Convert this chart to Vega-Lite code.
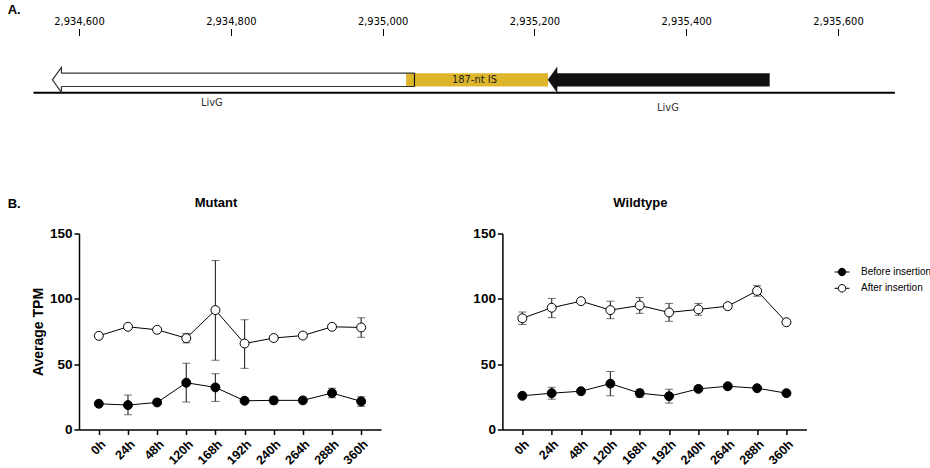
{
  "$schema": "https://vega.github.io/schema/vega-lite/v6.json",
  "padding": {"left": 7, "top": 3.5, "right": 0, "bottom": 0},
  "background": "white",
  "config": {
    "view": {"stroke": null},
    "font": "Liberation Sans",
    "axis": {
      "labelFont": "Liberation Sans", "labelFontWeight": "bold", "labelColor": "black",
      "titleFont": "Liberation Sans", "titleFontWeight": "bold", "titleColor": "black",
      "domainColor": "black", "domainWidth": 1.5, "tickColor": "black", "tickWidth": 1.5,
      "tickSize": 5, "grid": false
    },
    "axisTop": {"labelFlush": false, "labelOverlap": false}
  },
  "datasets": {
    "track": [{"start": 2934540, "end": 2935675}],
    "insertion": [{"label": "187-nt IS", "start": 2935031, "end": 2935218, "label_at": 2935121}],
    "genes": [
      {"gene": "LivG", "segment": "upstream", "tip": 2934565, "body_start": 2934576, "end": 2935042, "label_at": 2934775},
      {"gene": "LivG", "segment": "downstream", "tip": 2935218, "body_start": 2935228, "end": 2935510, "label_at": 2935376}
    ],
    "tpm": [
      {"panel": "Mutant", "series": "After insertion", "time": "0h", "tpm": 71.7},
      {"panel": "Mutant", "series": "After insertion", "time": "24h", "tpm": 78.6},
      {"panel": "Mutant", "series": "After insertion", "time": "48h", "tpm": 76.3},
      {"panel": "Mutant", "series": "After insertion", "time": "120h", "tpm": 69.9, "lo": 66.3, "hi": 73.5},
      {"panel": "Mutant", "series": "After insertion", "time": "168h", "tpm": 91.4, "lo": 53.0, "hi": 129.3},
      {"panel": "Mutant", "series": "After insertion", "time": "192h", "tpm": 65.8, "lo": 46.8, "hi": 84.0},
      {"panel": "Mutant", "series": "After insertion", "time": "240h", "tpm": 70.0, "lo": 68.5, "hi": 71.5},
      {"panel": "Mutant", "series": "After insertion", "time": "264h", "tpm": 71.9, "lo": 69.9, "hi": 73.9},
      {"panel": "Mutant", "series": "After insertion", "time": "288h", "tpm": 78.6},
      {"panel": "Mutant", "series": "After insertion", "time": "360h", "tpm": 78.1, "lo": 70.6, "hi": 85.5},
      {"panel": "Mutant", "series": "Before insertion", "time": "0h", "tpm": 19.7},
      {"panel": "Mutant", "series": "Before insertion", "time": "24h", "tpm": 18.7, "lo": 11.3, "hi": 26.4},
      {"panel": "Mutant", "series": "Before insertion", "time": "48h", "tpm": 20.7},
      {"panel": "Mutant", "series": "Before insertion", "time": "120h", "tpm": 35.8, "lo": 21.0, "hi": 50.7},
      {"panel": "Mutant", "series": "Before insertion", "time": "168h", "tpm": 32.2, "lo": 21.5, "hi": 42.7},
      {"panel": "Mutant", "series": "Before insertion", "time": "192h", "tpm": 22.0},
      {"panel": "Mutant", "series": "Before insertion", "time": "240h", "tpm": 22.3, "lo": 19.5, "hi": 25.1},
      {"panel": "Mutant", "series": "Before insertion", "time": "264h", "tpm": 22.3},
      {"panel": "Mutant", "series": "Before insertion", "time": "288h", "tpm": 27.9, "lo": 24.3, "hi": 31.5},
      {"panel": "Mutant", "series": "Before insertion", "time": "360h", "tpm": 21.5, "lo": 17.7, "hi": 25.1},
      {"panel": "Wildtype", "series": "After insertion", "time": "0h", "tpm": 85.1, "lo": 80.3, "hi": 89.9},
      {"panel": "Wildtype", "series": "After insertion", "time": "24h", "tpm": 93.2, "lo": 85.6, "hi": 100.3},
      {"panel": "Wildtype", "series": "After insertion", "time": "48h", "tpm": 98.2},
      {"panel": "Wildtype", "series": "After insertion", "time": "120h", "tpm": 91.4, "lo": 84.8, "hi": 98.2},
      {"panel": "Wildtype", "series": "After insertion", "time": "168h", "tpm": 94.9, "lo": 88.9, "hi": 101.0},
      {"panel": "Wildtype", "series": "After insertion", "time": "192h", "tpm": 89.6, "lo": 82.8, "hi": 96.5},
      {"panel": "Wildtype", "series": "After insertion", "time": "240h", "tpm": 91.9, "lo": 87.4, "hi": 96.5},
      {"panel": "Wildtype", "series": "After insertion", "time": "264h", "tpm": 94.4},
      {"panel": "Wildtype", "series": "After insertion", "time": "288h", "tpm": 106.1, "lo": 102.0, "hi": 110.1},
      {"panel": "Wildtype", "series": "After insertion", "time": "360h", "tpm": 82.1},
      {"panel": "Wildtype", "series": "Before insertion", "time": "0h", "tpm": 25.8},
      {"panel": "Wildtype", "series": "Before insertion", "time": "24h", "tpm": 27.8, "lo": 23.2, "hi": 32.3},
      {"panel": "Wildtype", "series": "Before insertion", "time": "48h", "tpm": 29.3},
      {"panel": "Wildtype", "series": "Before insertion", "time": "120h", "tpm": 35.1, "lo": 25.8, "hi": 44.4},
      {"panel": "Wildtype", "series": "Before insertion", "time": "168h", "tpm": 27.8, "lo": 24.7, "hi": 30.8},
      {"panel": "Wildtype", "series": "Before insertion", "time": "192h", "tpm": 25.5, "lo": 20.2, "hi": 30.8},
      {"panel": "Wildtype", "series": "Before insertion", "time": "240h", "tpm": 31.1},
      {"panel": "Wildtype", "series": "Before insertion", "time": "264h", "tpm": 33.1},
      {"panel": "Wildtype", "series": "Before insertion", "time": "288h", "tpm": 31.6},
      {"panel": "Wildtype", "series": "Before insertion", "time": "360h", "tpm": 27.8}
    ]
  },
  "vconcat": [
    {
      "width": 759,
      "height": 65,
      "layer": [
        {
          "data": {"name": "track"},
          "mark": {"type": "rule", "color": "black", "strokeWidth": 2},
          "encoding": {
            "x": {"field": "start", "type": "quantitative", "title": null, "scale": {"domain": [2934600, 2935600], "nice": false, "zero": false},
              "axis": {"orient": "top", "values": [2934600, 2934800, 2935000, 2935200, 2935400, 2935600], "format": ",d", "title": null, "domain": false, "grid": false, "tickSize": 7, "tickWidth": 1, "tickColor": "black", "labelFont": "DejaVu Sans Condensed, Roboto, sans-serif", "labelFontSize": 11, "labelFontWeight": "normal", "labelPadding": 2, "labelColor": "black", "labelFlush": false, "labelOverlap": false}},
            "x2": {"field": "end"},
            "y": {"datum": 1.185, "type": "quantitative", "scale": {"domain": [0, 10], "nice": false, "zero": false}, "axis": null}
          }
        },
        {
          "data": {"name": "insertion"},
          "mark": {"type": "rect", "color": "#DDB62B"},
          "encoding": {
            "x": {"field": "start", "type": "quantitative", "title": null, "scale": {"domain": [2934600, 2935600], "nice": false, "zero": false},
              "axis": {"orient": "top", "values": [2934600, 2934800, 2935000, 2935200, 2935400, 2935600], "format": ",d", "title": null, "domain": false, "grid": false, "tickSize": 7, "tickWidth": 1, "tickColor": "black", "labelFont": "DejaVu Sans Condensed, Roboto, sans-serif", "labelFontSize": 11, "labelFontWeight": "normal", "labelPadding": 2, "labelColor": "black", "labelFlush": false, "labelOverlap": false}},
            "x2": {"field": "end"},
            "y": {"datum": 4.2, "type": "quantitative", "scale": {"domain": [0, 10], "nice": false, "zero": false}, "axis": null},
            "y2": {"datum": 2.154}
          }
        },
        {
          "data": {"name": "insertion"},
          "mark": {"type": "text", "font": "DejaVu Sans Condensed, Roboto, sans-serif", "fontSize": 11, "color": "#222", "baseline": "middle", "align": "center"},
          "encoding": {
            "x": {"field": "label_at", "type": "quantitative", "title": null, "scale": {"domain": [2934600, 2935600], "nice": false, "zero": false},
              "axis": {"orient": "top", "values": [2934600, 2934800, 2935000, 2935200, 2935400, 2935600], "format": ",d", "title": null, "domain": false, "grid": false, "tickSize": 7, "tickWidth": 1, "tickColor": "black", "labelFont": "DejaVu Sans Condensed, Roboto, sans-serif", "labelFontSize": 11, "labelFontWeight": "normal", "labelPadding": 2, "labelColor": "black", "labelFlush": false, "labelOverlap": false}},
            "y": {"datum": 3.1, "type": "quantitative", "scale": {"domain": [0, 10], "nice": false, "zero": false}, "axis": null},
            "text": {"field": "label"}
          }
        },
        {
          "data": {"name": "genes"},
          "transform": [{"filter": "datum.segment === 'downstream'"}],
          "mark": {"type": "rect", "color": "#111111"},
          "encoding": {
            "x": {"field": "body_start", "type": "quantitative", "title": null, "scale": {"domain": [2934600, 2935600], "nice": false, "zero": false},
              "axis": {"orient": "top", "values": [2934600, 2934800, 2935000, 2935200, 2935400, 2935600], "format": ",d", "title": null, "domain": false, "grid": false, "tickSize": 7, "tickWidth": 1, "tickColor": "black", "labelFont": "DejaVu Sans Condensed, Roboto, sans-serif", "labelFontSize": 11, "labelFontWeight": "normal", "labelPadding": 2, "labelColor": "black", "labelFlush": false, "labelOverlap": false}},
            "x2": {"field": "end"},
            "y": {"datum": 4.2, "type": "quantitative", "scale": {"domain": [0, 10], "nice": false, "zero": false}, "axis": null},
            "y2": {"datum": 2.154}
          }
        },
        {
          "data": {"name": "genes"},
          "transform": [{"filter": "datum.segment === 'downstream'"}],
          "mark": {"type": "point", "shape": "M0,0L0.72,-1L0.72,1Z", "size": 625, "filled": true, "fill": "#111111", "stroke": "#111111", "strokeWidth": 0.5, "opacity": 1},
          "encoding": {
            "x": {"field": "tip", "type": "quantitative", "title": null, "scale": {"domain": [2934600, 2935600], "nice": false, "zero": false},
              "axis": {"orient": "top", "values": [2934600, 2934800, 2935000, 2935200, 2935400, 2935600], "format": ",d", "title": null, "domain": false, "grid": false, "tickSize": 7, "tickWidth": 1, "tickColor": "black", "labelFont": "DejaVu Sans Condensed, Roboto, sans-serif", "labelFontSize": 11, "labelFontWeight": "normal", "labelPadding": 2, "labelColor": "black", "labelFlush": false, "labelOverlap": false}},
            "y": {"datum": 3.177, "type": "quantitative", "scale": {"domain": [0, 10], "nice": false, "zero": false}, "axis": null}
          }
        },
        {
          "data": {"name": "genes"},
          "transform": [{"filter": "datum.segment === 'upstream'"}],
          "mark": {"type": "rule", "color": "#333333", "strokeWidth": 1.2},
          "encoding": {
            "x": {"field": "body_start", "type": "quantitative", "title": null, "scale": {"domain": [2934600, 2935600], "nice": false, "zero": false},
              "axis": {"orient": "top", "values": [2934600, 2934800, 2935000, 2935200, 2935400, 2935600], "format": ",d", "title": null, "domain": false, "grid": false, "tickSize": 7, "tickWidth": 1, "tickColor": "black", "labelFont": "DejaVu Sans Condensed, Roboto, sans-serif", "labelFontSize": 11, "labelFontWeight": "normal", "labelPadding": 2, "labelColor": "black", "labelFlush": false, "labelOverlap": false}},
            "x2": {"field": "end"},
            "y": {"datum": 4.2, "type": "quantitative", "scale": {"domain": [0, 10], "nice": false, "zero": false}, "axis": null}
          }
        },
        {
          "data": {"name": "genes"},
          "transform": [{"filter": "datum.segment === 'upstream'"}],
          "mark": {"type": "rule", "color": "#333333", "strokeWidth": 1.2},
          "encoding": {
            "x": {"field": "body_start", "type": "quantitative", "title": null, "scale": {"domain": [2934600, 2935600], "nice": false, "zero": false},
              "axis": {"orient": "top", "values": [2934600, 2934800, 2935000, 2935200, 2935400, 2935600], "format": ",d", "title": null, "domain": false, "grid": false, "tickSize": 7, "tickWidth": 1, "tickColor": "black", "labelFont": "DejaVu Sans Condensed, Roboto, sans-serif", "labelFontSize": 11, "labelFontWeight": "normal", "labelPadding": 2, "labelColor": "black", "labelFlush": false, "labelOverlap": false}},
            "x2": {"field": "end"},
            "y": {"datum": 2.154, "type": "quantitative", "scale": {"domain": [0, 10], "nice": false, "zero": false}, "axis": null}
          }
        },
        {
          "data": {"name": "genes"},
          "transform": [{"filter": "datum.segment === 'upstream'"}],
          "mark": {"type": "rule", "color": "#111111", "strokeWidth": 1.2},
          "encoding": {
            "x": {"field": "end", "type": "quantitative", "title": null, "scale": {"domain": [2934600, 2935600], "nice": false, "zero": false},
              "axis": {"orient": "top", "values": [2934600, 2934800, 2935000, 2935200, 2935400, 2935600], "format": ",d", "title": null, "domain": false, "grid": false, "tickSize": 7, "tickWidth": 1, "tickColor": "black", "labelFont": "DejaVu Sans Condensed, Roboto, sans-serif", "labelFontSize": 11, "labelFontWeight": "normal", "labelPadding": 2, "labelColor": "black", "labelFlush": false, "labelOverlap": false}},
            "y": {"datum": 4.2, "type": "quantitative", "scale": {"domain": [0, 10], "nice": false, "zero": false}, "axis": null},
            "y2": {"datum": 2.154}
          }
        },
        {
          "data": {"name": "genes"},
          "transform": [{"filter": "datum.segment === 'upstream'"}],
          "mark": {"type": "point", "shape": "M0.72,-0.532L0.72,-1L0,0L0.72,1L0.72,0.532", "size": 625, "filled": true, "fill": "white", "stroke": "#333333", "strokeWidth": 1.2, "opacity": 1},
          "encoding": {
            "x": {"field": "tip", "type": "quantitative", "title": null, "scale": {"domain": [2934600, 2935600], "nice": false, "zero": false},
              "axis": {"orient": "top", "values": [2934600, 2934800, 2935000, 2935200, 2935400, 2935600], "format": ",d", "title": null, "domain": false, "grid": false, "tickSize": 7, "tickWidth": 1, "tickColor": "black", "labelFont": "DejaVu Sans Condensed, Roboto, sans-serif", "labelFontSize": 11, "labelFontWeight": "normal", "labelPadding": 2, "labelColor": "black", "labelFlush": false, "labelOverlap": false}},
            "y": {"datum": 3.177, "type": "quantitative", "scale": {"domain": [0, 10], "nice": false, "zero": false}, "axis": null}
          }
        },
        {
          "data": {"name": "genes"},
          "transform": [{"filter": "datum.segment === 'upstream'"}],
          "mark": {"type": "text", "font": "DejaVu Sans Condensed, Roboto, sans-serif", "fontSize": 11, "color": "#333", "baseline": "middle", "align": "center"},
          "encoding": {
            "x": {"field": "label_at", "type": "quantitative", "title": null, "scale": {"domain": [2934600, 2935600], "nice": false, "zero": false},
              "axis": {"orient": "top", "values": [2934600, 2934800, 2935000, 2935200, 2935400, 2935600], "format": ",d", "title": null, "domain": false, "grid": false, "tickSize": 7, "tickWidth": 1, "tickColor": "black", "labelFont": "DejaVu Sans Condensed, Roboto, sans-serif", "labelFontSize": 11, "labelFontWeight": "normal", "labelPadding": 2, "labelColor": "black", "labelFlush": false, "labelOverlap": false}},
            "y": {"datum": -0.46, "type": "quantitative", "scale": {"domain": [0, 10], "nice": false, "zero": false}, "axis": null},
            "text": {"field": "gene"}
          }
        },
        {
          "data": {"name": "genes"},
          "transform": [{"filter": "datum.segment === 'downstream'"}],
          "mark": {"type": "text", "font": "DejaVu Sans Condensed, Roboto, sans-serif", "fontSize": 11, "color": "#333", "baseline": "middle", "align": "center"},
          "encoding": {
            "x": {"field": "label_at", "type": "quantitative", "title": null, "scale": {"domain": [2934600, 2935600], "nice": false, "zero": false},
              "axis": {"orient": "top", "values": [2934600, 2934800, 2935000, 2935200, 2935400, 2935600], "format": ",d", "title": null, "domain": false, "grid": false, "tickSize": 7, "tickWidth": 1, "tickColor": "black", "labelFont": "DejaVu Sans Condensed, Roboto, sans-serif", "labelFontSize": 11, "labelFontWeight": "normal", "labelPadding": 2, "labelColor": "black", "labelFlush": false, "labelOverlap": false}},
            "y": {"datum": -1.08, "type": "quantitative", "scale": {"domain": [0, 10], "nice": false, "zero": false}, "axis": null},
            "text": {"field": "gene"}
          }
        },
        {
          "data": {"values": [{"panel_label": "A."}]},
          "mark": {"type": "text", "font": "Liberation Sans", "fontWeight": "bold", "fontSize": 13, "color": "black", "baseline": "middle", "align": "left"},
          "encoding": {
            "x": {"datum": 2934506, "type": "quantitative", "title": null, "scale": {"domain": [2934600, 2935600], "nice": false, "zero": false},
              "axis": {"orient": "top", "values": [2934600, 2934800, 2935000, 2935200, 2935400, 2935600], "format": ",d", "title": null, "domain": false, "grid": false, "tickSize": 7, "tickWidth": 1, "tickColor": "black", "labelFont": "DejaVu Sans Condensed, Roboto, sans-serif", "labelFontSize": 11, "labelFontWeight": "normal", "labelPadding": 2, "labelColor": "black", "labelFlush": false, "labelOverlap": false}},
            "y": {"datum": 13.85, "type": "quantitative", "scale": {"domain": [0, 10], "nice": false, "zero": false}, "axis": null},
            "text": {"field": "panel_label"}
          }
        },
        {
          "data": {"values": [{"panel_label": "B."}]},
          "mark": {"type": "text", "font": "Liberation Sans", "fontWeight": "bold", "fontSize": 13, "color": "black", "baseline": "middle", "align": "left"},
          "encoding": {
            "x": {"datum": 2934506, "type": "quantitative", "title": null, "scale": {"domain": [2934600, 2935600], "nice": false, "zero": false},
              "axis": {"orient": "top", "values": [2934600, 2934800, 2935000, 2935200, 2935400, 2935600], "format": ",d", "title": null, "domain": false, "grid": false, "tickSize": 7, "tickWidth": 1, "tickColor": "black", "labelFont": "DejaVu Sans Condensed, Roboto, sans-serif", "labelFontSize": 11, "labelFontWeight": "normal", "labelPadding": 2, "labelColor": "black", "labelFlush": false, "labelOverlap": false}},
            "y": {"datum": -15.85, "type": "quantitative", "scale": {"domain": [0, 10], "nice": false, "zero": false}, "axis": null},
            "text": {"field": "panel_label"}
          }
        }
      ]
    },
    {
      "hconcat": [
        {
          "title": {"text": "Mutant", "font": "Liberation Sans", "fontSize": 13, "fontWeight": "bold", "color": "black", "dx": -14, "offset": 17},
          "width": 302,
          "height": 196,
          "data": {"name": "tpm"},
          "transform": [{"filter": "datum.panel === 'Mutant'"}],
          "encoding": {
            "x": {"field": "time", "type": "nominal", "sort": ["0h", "24h", "48h", "120h", "168h", "192h", "240h", "264h", "288h", "360h"], "scale": {"type": "point", "padding": 0.68}, "title": null,
              "axis": {"labelAngle": -45, "labelFontSize": 12.5, "labelPadding": 3, "title": null}}
          },
          "layer": [
            {
              "transform": [{"filter": "isValid(datum.lo)"}],
              "mark": {"type": "errorbar", "ticks": {"size": 8, "color": "#333333", "strokeWidth": 1.2}, "rule": {"color": "#333333", "strokeWidth": 1.2}},
              "encoding": {
                "y": {"field": "lo", "type": "quantitative", "scale": {"domain": [0, 150], "nice": false}, "title": "Average TPM",
                  "axis": {"values": [0, 50, 100, 150], "labelFontSize": 13.5, "titleFontSize": 14, "titlePadding": 4, "labelPadding": 2, "title": "Average TPM"}},
                "y2": {"field": "hi"}
              }
            },
            {
              "mark": {"type": "line", "color": "black", "strokeWidth": 1},
              "encoding": {
                "y": {"field": "tpm", "type": "quantitative", "scale": {"domain": [0, 150], "nice": false}, "title": "Average TPM",
                  "axis": {"values": [0, 50, 100, 150], "labelFontSize": 13.5, "titleFontSize": 14, "titlePadding": 4, "labelPadding": 2, "title": "Average TPM"}},
                "detail": {"field": "series"}
              }
            },
            {
              "mark": {"type": "point", "filled": true, "size": 80, "stroke": "black", "strokeWidth": 1, "opacity": 1},
              "encoding": {
                "y": {"field": "tpm", "type": "quantitative", "scale": {"domain": [0, 150], "nice": false}, "title": "Average TPM",
                  "axis": {"values": [0, 50, 100, 150], "labelFontSize": 13.5, "titleFontSize": 14, "titlePadding": 4, "labelPadding": 2, "title": "Average TPM"}},
                "fill": {"field": "series", "type": "nominal", "scale": {"domain": ["Before insertion", "After insertion"], "range": ["black", "white"]},
                  "legend": {"title": null, "orient": "none", "legendX": 755, "legendY": 228.5, "padding": 0,
                    "symbolType": "M-1,0H-0.5M0.5,0A0.5,0.5 0 1,1 -0.5,0A0.5,0.5 0 1,1 0.5,0M0.5,0H1",
                    "symbolSize": 225, "symbolStrokeColor": "black", "symbolStrokeWidth": 1, "symbolOpacity": 1,
                    "labelFont": "Liberation Sans", "labelFontSize": 10, "labelFontWeight": "normal", "labelColor": "black", "labelOffset": 11, "rowPadding": 2.3}}
              }
            }
          ]
        },
        {
          "title": {"text": "Wildtype", "font": "Liberation Sans", "fontSize": 13, "fontWeight": "bold", "color": "black", "dx": -14, "offset": 17},
          "width": 304,
          "height": 196,
          "data": {"name": "tpm"},
          "transform": [{"filter": "datum.panel === 'Wildtype'"}],
          "encoding": {
            "x": {"field": "time", "type": "nominal", "sort": ["0h", "24h", "48h", "120h", "168h", "192h", "240h", "264h", "288h", "360h"], "scale": {"type": "point", "padding": 0.68}, "title": null,
              "axis": {"labelAngle": -45, "labelFontSize": 12.5, "labelPadding": 3, "title": null}}
          },
          "layer": [
            {
              "transform": [{"filter": "isValid(datum.lo)"}],
              "mark": {"type": "errorbar", "ticks": {"size": 8, "color": "#333333", "strokeWidth": 1.2}, "rule": {"color": "#333333", "strokeWidth": 1.2}},
              "encoding": {
                "y": {"field": "lo", "type": "quantitative", "scale": {"domain": [0, 150], "nice": false}, "title": null,
                  "axis": {"values": [0, 50, 100, 150], "labelFontSize": 13.5, "labelPadding": 2, "title": null}},
                "y2": {"field": "hi"}
              }
            },
            {
              "mark": {"type": "line", "color": "black", "strokeWidth": 1},
              "encoding": {
                "y": {"field": "tpm", "type": "quantitative", "scale": {"domain": [0, 150], "nice": false}, "title": null,
                  "axis": {"values": [0, 50, 100, 150], "labelFontSize": 13.5, "labelPadding": 2, "title": null}},
                "detail": {"field": "series"}
              }
            },
            {
              "mark": {"type": "point", "filled": true, "size": 80, "stroke": "black", "strokeWidth": 1, "opacity": 1},
              "encoding": {
                "y": {"field": "tpm", "type": "quantitative", "scale": {"domain": [0, 150], "nice": false}, "title": null,
                  "axis": {"values": [0, 50, 100, 150], "labelFontSize": 13.5, "labelPadding": 2, "title": null}},
                "fill": {"field": "series", "type": "nominal", "scale": {"domain": ["Before insertion", "After insertion"], "range": ["black", "white"]},
                  "legend": {"title": null, "orient": "none", "legendX": 755, "legendY": 228.5, "padding": 0,
                    "symbolType": "M-1,0H-0.5M0.5,0A0.5,0.5 0 1,1 -0.5,0A0.5,0.5 0 1,1 0.5,0M0.5,0H1",
                    "symbolSize": 225, "symbolStrokeColor": "black", "symbolStrokeWidth": 1, "symbolOpacity": 1,
                    "labelFont": "Liberation Sans", "labelFontSize": 10, "labelFontWeight": "normal", "labelColor": "black", "labelOffset": 11, "rowPadding": 2.3}}
              }
            }
          ]
        }
      ],
      "bounds": "flush",
      "spacing": 121.4
    }
  ],
  "bounds": "flush",
  "spacing": 133
}
